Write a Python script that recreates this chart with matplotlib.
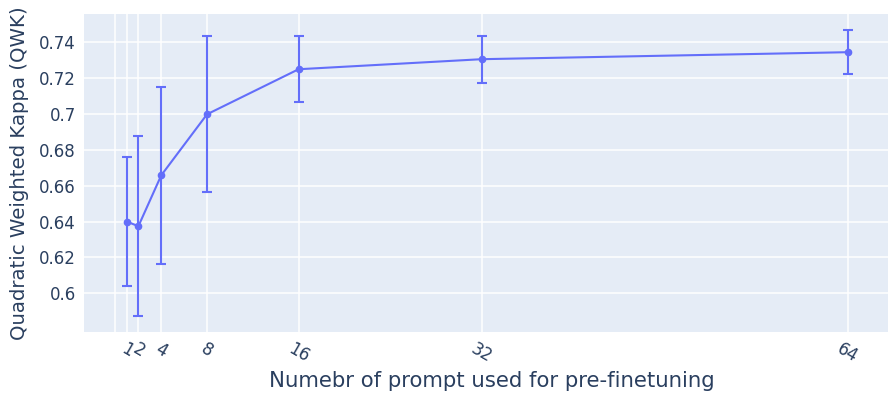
import matplotlib
matplotlib.use("Agg")
import matplotlib.pyplot as plt

# Number of prompts used for pre-finetuning vs. QWK (mean and error)
n_prompts = [1, 2, 4, 8, 16, 32, 64]
qwk_mean = [0.6400, 0.6374, 0.6658, 0.6998, 0.7249, 0.7305, 0.7344]
qwk_err = [0.0360, 0.0502, 0.0494, 0.0435, 0.0185, 0.0132, 0.0123]

x_ticks = [0, 1, 2, 4, 8, 16, 32, 64]
x_tick_labels = ["", "1", "2", "4", "8", "16", "32", "64"]
y_ticks = [0.60, 0.62, 0.64, 0.66, 0.68, 0.70, 0.72, 0.74]
y_tick_labels = ["0.6", "0.62", "0.64", "0.66", "0.68", "0.7", "0.72", "0.74"]

LINE = "#636EFA"
BG = "#E5ECF6"
FONT = "#2A3F5F"

plt.rcParams["font.family"] = ["DejaVu Sans"]

fig = plt.figure(figsize=(8.88, 3.93), dpi=100)
ax = fig.add_axes([0.0946, 0.154, 0.9054, 0.81])
ax.set_facecolor(BG)

ax.errorbar(n_prompts, qwk_mean, yerr=qwk_err, color=LINE, lw=1.5,
            marker="o", ms=4.5, elinewidth=1.5, capsize=3.8, capthick=1.5,
            zorder=3)

ax.set_xlim(-2.75, 67.5)
ax.set_ylim(0.5782, 0.7556)

ax.set_xticks(x_ticks)
ax.set_xticklabels(x_tick_labels, rotation=-30, ha="center", va="top",
                   rotation_mode="default")
ax.set_yticks(y_ticks)
ax.set_yticklabels(y_tick_labels)

ax.grid(True, color="white", lw=1.1, zorder=0)
ax.set_axisbelow(True)
for s in ax.spines.values():
    s.set_visible(False)
ax.tick_params(axis="both", length=0, colors=FONT, labelsize=12)
ax.tick_params(axis="x", pad=5)
ax.tick_params(axis="y", pad=6)

ax.set_ylabel("Quadratic Weighted Kappa (QWK)", fontsize=14.2, color=FONT,
              labelpad=7)
fig.text(0.5535, 0.014, "Numebr of prompt used for pre-finetuning",
         fontsize=15.3, color=FONT, ha="center", va="baseline")

fig.savefig("out.png", dpi=100)
